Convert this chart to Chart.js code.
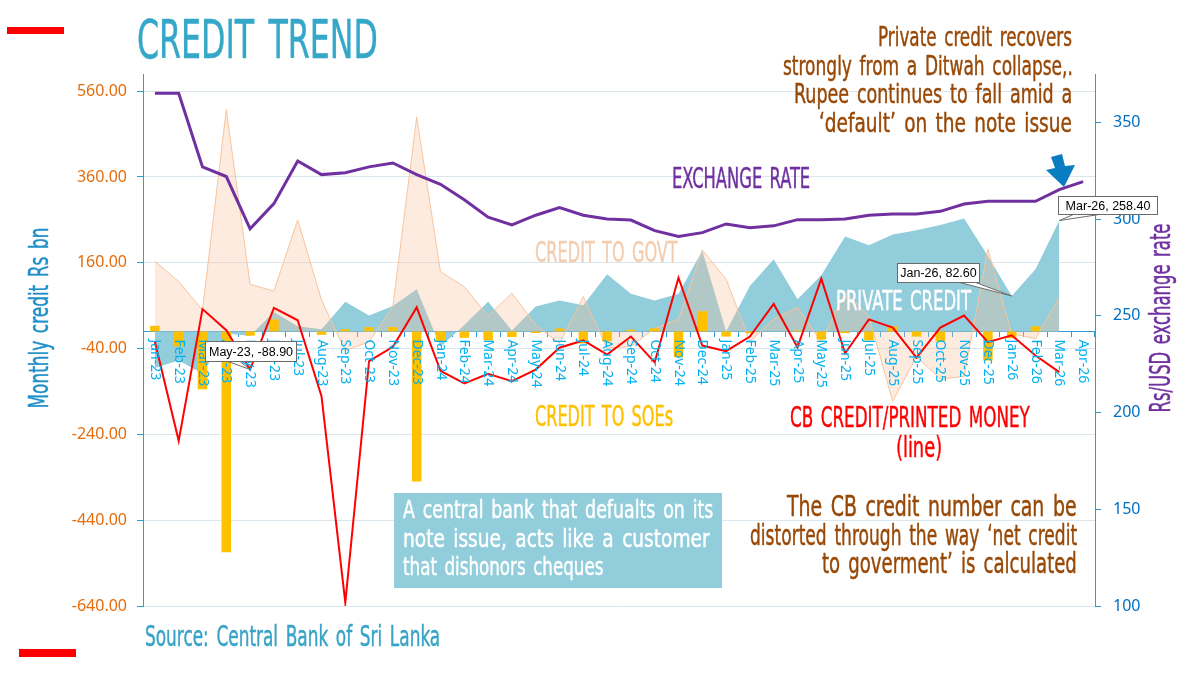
<!DOCTYPE html>
<html>
<head>
<meta charset="utf-8">
<script src="https://cdn.jsdelivr.net/npm/chart.js@4.4.1/dist/chart.umd.min.js"></script>
<style>
  body { margin: 0; background: #fff; }
  #wrap { position: relative; width: 1200px; height: 676px; overflow: hidden; background: #fff; }
  #c { position: absolute; left: 0; top: 0; }
  .t {
    position: absolute; white-space: nowrap; line-height: 1;
    font-family: "Liberation Sans Narrow", "DejaVu Sans Condensed", "Roboto Condensed", sans-serif;
    font-stretch: condensed; word-spacing: 0.12em; transform-origin: left top;
    -webkit-text-stroke-width: 0.45px;
  }
  .rot { transform-origin: center center; }
  .brown { color: #984806; }
  .dash { position: absolute; background: #ff0000; }
  #note { position: absolute; left: 394px; top: 493px; width: 328px; height: 95px; background: #92cddc; }
</style>
</head>
<body>
<div id="wrap">
  <canvas id="c" width="1200" height="676"></canvas>

  <div class="dash" style="left:7px; top:27px; width:57px; height:7px"></div>
  <div class="dash" style="left:19px; top:649px; width:57px; height:8px"></div>

  <div class="t" style="left:137px; top:13px; font-size:53px; color:#35a7c9" data-w="241">CREDIT TREND</div>

  <div class="t brown" style="left:878px; top:24px; font-size:26.5px" data-w="194">Private credit recovers</div>
  <div class="t brown" style="left:783px; top:53px; font-size:26.5px" data-w="290">strongly from a Ditwah collapse,.</div>
  <div class="t brown" style="left:794px; top:81px; font-size:26.5px" data-w="278">Rupee continues to fall amid a</div>
  <div class="t brown" style="left:819px; top:110px; font-size:26.5px" data-w="253">‘default’ on the note issue</div>

  <svg style="position:absolute; left:0; top:0" width="1200" height="676">
    <polygon points="1051,157 1062,154 1065,166 1075,165 1064,187 1046,170 1055,168" fill="#0a7cc1"/>
  </svg>

  <div class="t" style="left:672px; top:165px; font-size:28px; color:#7030a0" data-w="138">EXCHANGE RATE</div>
  <div class="t" style="left:535px; top:239px; font-size:28px; color:#f3cdb0" data-w="143">CREDIT TO GOVT</div>
  <div class="t" style="left:836px; top:287px; font-size:27px; color:#ffffff" data-w="135">PRIVATE CREDIT</div>
  <div class="t" style="left:535px; top:403px; font-size:28px; color:#ffc000" data-w="138">CREDIT TO SOEs</div>
  <div class="t" style="left:790px; top:404px; font-size:28px; color:#ff0000" data-w="240">CB CREDIT/PRINTED MONEY</div>
  <div class="t" style="left:896px; top:434px; font-size:28px; color:#ff0000" data-w="46">(line)</div>

  <div id="note"></div>
  <div class="t" style="left:403px; top:498px; font-size:24.5px; color:#fff" data-w="310">A central bank that defualts on its</div>
  <div class="t" style="left:403px; top:527px; font-size:24.5px; color:#fff" data-w="307">note issue, acts like a customer</div>
  <div class="t" style="left:403px; top:555px; font-size:24.5px; color:#fff" data-w="200">that dishonors cheques</div>

  <div class="t brown" style="left:787px; top:493px; font-size:28px" data-w="290">The CB credit number can be</div>
  <div class="t brown" style="left:750px; top:522px; font-size:28px" data-w="327">distorted through the way ‘net credit</div>
  <div class="t brown" style="left:822px; top:550px; font-size:28px" data-w="255">to goverment’ is calculated</div>

  <div class="t" style="left:145px; top:623px; font-size:28px; color:#37a3c6" data-w="295">Source: Central Bank of Sri Lanka</div>

  <div class="t rot" style="left:39px; top:318px; font-size:26.5px; color:#1f8fc8" data-w="181" data-rot="1">Monthly credit Rs bn</div>
  <div class="t rot" style="left:1161px; top:318px; font-size:28px; color:#7030a0" data-w="189" data-rot="1">Rs/USD exchange rate</div>
</div>

<script>
// monthly figures, Rs bn (left axis) and Rs per USD (right axis)
const months = ["Jan-23","Feb-23","Mar-23","Apr-23","May-23","Jun-23","Jul-23","Aug-23","Sep-23","Oct-23","Nov-23","Dec-23",
  "Jan-24","Feb-24","Mar-24","Apr-24","May-24","Jun-24","Jul-24","Aug-24","Sep-24","Oct-24","Nov-24","Dec-24",
  "Jan-25","Feb-25","Mar-25","Apr-25","May-25","Jun-25","Jul-25","Aug-25","Sep-25","Oct-25","Nov-25","Dec-25",
  "Jan-26","Feb-26","Mar-26","Apr-26"]

const exchangeRate = [365, 365, 327, 322, 295, 308, 330, 323, 324, 327, 329, 323,
  318, 310, 301, 297, 302, 306, 302, 300, 299.5, 294, 291, 293,
  297.5, 295.5, 296.5, 299.7, 299.7, 300, 302, 302.6, 302.6, 304, 307.8, 309.2,
  309.2, 309.2, 315.2, 319.4]

const privateCredit = [-85, -68, -98, -5, -10, 45, 12, 5, 69, 37, 59, 98,
  -36, 15, 69, 2, 58, 72, 61, 133, 88, 72, 88, 188,
  0, 106, 168, 75, 131, 221, 201, 226, 236, 248, 263, 176,
  82.6, 145, 258.4, null]

const govtCredit = [164, 116, 50, 517, 110, 94, 260, 73, -45, -24, 58, 500,
  139, 104, 36, 89, 15, -28, 81, -39, -35, 7, 28, 190,
  122, -24, 29, 56, -25, 93, 35, -163, -59, -111, -105, 192,
  -5, -17, 79, null]

const soeCredit = [13, -35, -135, -515, -10, 28, 0, -8, 5, 10, 10, -350,
  -22, -15, -21, -13, -4, 7, -28, -23, 4, 7, -60, 47,
  -12, -4, 0, 2, -19, -4, -21, 12, -12, -23, 0, -68,
  -16, 12, 0, null]

const cbCredit = [-24, -255, 52, 3, -88.9, 55, 26, -151, -632, -69, -36, 56,
  -92, -121, -99, -116, -89, -38, -21, -54, -12, -72, 125, -33,
  -46, -12, 64, -37, 123, -51, 28, 9, -61, 9, 37, -25,
  -9, -56, -95, null]

const leftTicks = [-640, -440, -240, -40, 160, 360, 560]
const rightTicks = [100, 150, 200, 250, 300, 350]

// data callouts: dataset index, point index, box offset from point, wedge base
const callouts = [
  { ds: 1, i: 4, box: [-45, -29, 91, 20], base: [-22, -10] },
  { ds: 4, i: 36, box: [-115, -33, 82, 19], base: [-52, -36] },
  { ds: 4, i: 38, box: [-1, -25, 99, 18], base: [14, 40] }
]

const axisBlue = "#2e9bd6"

const monthLabels = {
  id: "monthLabels",
  afterDatasetsDraw(chart) {
    const { ctx, scales: { x, y } } = chart
    const top = y.getPixelForValue(0) + 8
    ctx.save()
    ctx.font = '14px "Noto Sans"'
    ctx.fillStyle = "#00b0f0"
    ctx.textAlign = "left"
    ctx.textBaseline = "middle"
    months.forEach((m, i) => {
      ctx.save()
      ctx.translate(x.getPixelForValue(i), top)
      ctx.rotate(Math.PI / 2)
      ctx.fillText(m, 0, 0)
      ctx.restore()
    })
    ctx.restore()
  }
}

const calloutBoxes = {
  id: "calloutBoxes",
  afterDraw(chart) {
    const ctx = chart.ctx
    ctx.save()
    callouts.forEach(c => {
      const pt = chart.getDatasetMeta(c.ds).data[c.i]
      const value = chart.data.datasets[c.ds].data[c.i]
      const text = months[c.i] + ", " + value.toFixed(2)
      const [dx, dy, w, h] = c.box
      const bx = Math.round(pt.x + dx) + 0.5, by = Math.round(pt.y + dy) + 0.5
      ctx.lineWidth = 1
      ctx.strokeStyle = "#6b6b6b"
      ctx.fillStyle = "#fff"
      ctx.beginPath()
      ctx.moveTo(pt.x + c.base[0], by + h)
      ctx.lineTo(pt.x, pt.y)
      ctx.lineTo(pt.x + c.base[1], by + h)
      ctx.closePath()
      ctx.fill()
      ctx.stroke()
      ctx.fillRect(bx, by, w, h)
      ctx.strokeRect(bx, by, w, h)
      ctx.fillStyle = "#000"
      ctx.font = '12.5px "Liberation Sans"'
      ctx.textAlign = "center"
      ctx.textBaseline = "middle"
      ctx.fillText(text, bx + w / 2, by + h / 2 + 1)
    })
    ctx.restore()
  }
}

new Chart(document.getElementById("c"), {
  type: "bar",
  data: {
    labels: months,
    datasets: [
      { type: "line", label: "Exchange rate", data: exchangeRate, yAxisID: "y1",
        borderColor: "#7030a0", borderWidth: 3, pointRadius: 0, tension: 0, order: 0 },
      { type: "line", label: "CB credit", data: cbCredit, yAxisID: "y",
        borderColor: "#ff0000", borderWidth: 2, pointRadius: 0, tension: 0, order: 1 },
      { type: "bar", label: "Credit to SOEs", data: soeCredit, yAxisID: "y",
        backgroundColor: "#ffc000", barPercentage: 0.4, categoryPercentage: 1, order: 2 },
      { type: "line", label: "Credit to govt", data: govtCredit, yAxisID: "y",
        borderColor: "#f7c49c", borderWidth: 1, backgroundColor: "rgba(247,190,150,0.3)",
        fill: "origin", pointRadius: 0, tension: 0, order: 3 },
      { type: "line", label: "Private credit", data: privateCredit, yAxisID: "y",
        borderColor: "rgba(0,0,0,0)", borderWidth: 1, backgroundColor: "#92cddc",
        fill: "origin", pointRadius: 0, tension: 0, order: 4 }
    ]
  },
  options: {
    responsive: false,
    animation: false,
    devicePixelRatio: 1,
    layout: { padding: { top: 74, bottom: 70, left: 0, right: 0 } },
    plugins: { legend: { display: false }, tooltip: { enabled: false } },
    scales: {
      x: {
        position: { y: 0 },
        offset: true,
        ticks: { display: false },
        grid: { drawOnChartArea: false, color: axisBlue, tickLength: 5, offset: true },
        border: { color: axisBlue, width: 1 }
      },
      y: {
        position: "left",
        min: -640, max: 600,
        afterBuildTicks: s => { s.ticks = leftTicks.map(v => ({ value: v })) },
        afterFit: s => { s.width = 143 },
        ticks: { callback: v => v.toFixed(2), color: "#e46c0a", padding: 10,
          font: { family: "Noto Sans", size: 16 } },
        grid: { color: "#dbe7ef", tickColor: axisBlue, tickLength: 6 },
        border: { color: axisBlue, width: 1 }
      },
      y1: {
        position: "right",
        min: 100, max: 375,
        afterBuildTicks: s => { s.ticks = rightTicks.map(v => ({ value: v })) },
        afterFit: s => { s.width = 105 },
        ticks: { color: "#0070c0", padding: 12, font: { family: "Noto Sans", size: 16 } },
        grid: { drawOnChartArea: false, tickColor: axisBlue, tickLength: 6 },
        border: { color: axisBlue, width: 1 }
      }
    }
  },
  plugins: [monthLabels, calloutBoxes]
})

// squeeze the condensed captions to the widths they have in the original slide
document.querySelectorAll("[data-w]").forEach(el => {
  const s = el.dataset.w / el.offsetWidth
  el.style.transform = (el.dataset.rot ? "translate(-50%,-50%) rotate(-90deg) " : "") + "scaleX(" + s.toFixed(3) + ")"
})
</script>
</body>
</html>
